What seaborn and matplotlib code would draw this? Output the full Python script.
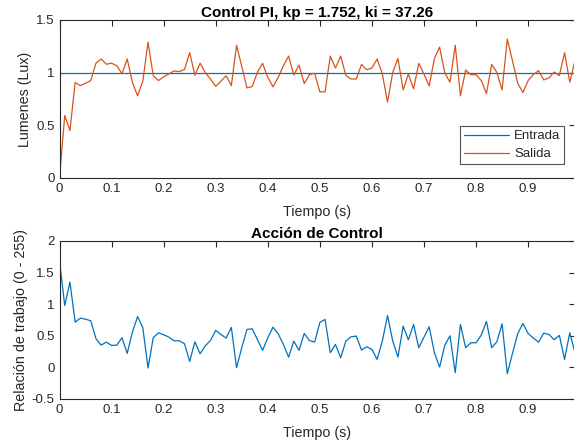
import numpy as np
import pandas as pd
import matplotlib
matplotlib.use("Agg")
import matplotlib.pyplot as plt
import seaborn as sns

# ---- data ----
tiempo = [round(i * 0.01, 2) for i in range(100)]
entrada = [1.0] * 100
salida = [0.0, 0.594, 0.45, 0.906, 0.877, 0.90, 0.925, 1.09, 1.13, 1.08,
          1.09, 1.066, 0.99, 1.13, 0.906, 0.78, 0.92, 1.29, 0.97, 0.925,
          0.96, 0.988, 1.016, 1.01, 1.03, 1.19, 0.975, 1.09, 1.0, 0.94,
          0.87, 0.92, 0.97, 0.877, 1.26, 1.06, 0.855, 0.868, 1.003, 1.088,
          0.956, 0.865, 0.956, 1.066, 1.157, 0.978, 1.072, 0.896, 0.981, 0.994,
          0.818, 0.818, 1.157, 1.044, 1.157, 0.972, 0.94, 0.94, 1.078, 1.028,
          1.044, 1.129, 0.987, 0.72, 1.003, 1.135, 0.836, 0.987, 0.846, 1.088,
          0.987, 0.874, 1.135, 1.242, 0.997, 0.909, 1.261, 0.78, 1.025, 0.981,
          0.981, 0.925, 0.802, 1.078, 1.003, 0.836, 1.318, 1.113, 0.90, 0.811,
          0.925, 0.981, 1.019, 0.931, 0.95, 1.006, 0.972, 1.189, 0.909, 1.113]
accion = [1.68, 0.98, 1.35, 0.716, 0.779, 0.763, 0.737, 0.453, 0.352, 0.40,
          0.347, 0.352, 0.469, 0.221, 0.558, 0.806, 0.627, -0.01, 0.469, 0.548,
          0.516, 0.479, 0.421, 0.421, 0.374, 0.095, 0.405, 0.216, 0.342, 0.426,
          0.585, 0.521, 0.463, 0.632, -0.005, 0.311, 0.60, 0.611, 0.442, 0.269,
          0.469, 0.637, 0.532, 0.363, 0.163, 0.416, 0.269, 0.537, 0.426, 0.40,
          0.711, 0.758, 0.232, 0.363, 0.153, 0.416, 0.484, 0.495, 0.274, 0.326,
          0.284, 0.126, 0.416, 0.821, 0.416, 0.163, 0.653, 0.437, 0.679, 0.311,
          0.479, 0.642, 0.232, 0.005, 0.352, 0.50, -0.084, 0.679, 0.311, 0.39,
          0.39, 0.511, 0.727, 0.311, 0.405, 0.69, -0.10, 0.221, 0.532, 0.695,
          0.537, 0.463, 0.40, 0.542, 0.521, 0.437, 0.506, 0.126, 0.548, 0.232]

titulo_sup = "Control PI, kp = 1.752, ki = 37.26"
titulo_inf = "Acción de Control"
xlabel = "Tiempo (s)"
ylabel_sup = "Lumenes (Lux)"
ylabel_inf = "Relación de trabajo (0 - 255)"
xticks = [0, 0.1, 0.2, 0.3, 0.4, 0.5, 0.6, 0.7, 0.8, 0.9]
xticklabels = ["0", "0.1", "0.2", "0.3", "0.4", "0.5", "0.6", "0.7", "0.8", "0.9"]
yticks_sup = [0, 0.5, 1, 1.5]
yticklabels_sup = ["0", "0.5", "1", "1.5"]
yticks_inf = [-0.5, 0, 0.5, 1, 1.5, 2]
yticklabels_inf = ["-0.5", "0", "0.5", "1", "1.5", "2"]

sns.set_style("white")
plt.rcParams['font.family'] = ['Liberation Sans', 'DejaVu Sans']
plt.rcParams['xtick.direction'] = 'in'
plt.rcParams['ytick.direction'] = 'in'

blue = "#0072BD"
orange = "#D95319"
tick_color = "#262626"

fig = plt.figure(figsize=(5.74, 4.42), dpi=100)
ax1 = fig.add_axes([0.1037, 0.5973, 0.8980, 0.3575])
ax2 = fig.add_axes([0.1037, 0.0973, 0.8980, 0.3575])

df1 = pd.DataFrame({"t": tiempo + tiempo,
                    "v": entrada + salida,
                    "serie": ["Entrada"] * len(tiempo) + ["Salida"] * len(tiempo)})
sns.lineplot(data=df1, x="t", y="v", hue="serie", palette=[blue, orange],
             linewidth=0.9, ax=ax1, estimator=None, sort=False)
df2 = pd.DataFrame({"t": tiempo, "v": accion})
sns.lineplot(data=df2, x="t", y="v", color=blue, linewidth=0.9, ax=ax2,
             estimator=None, sort=False)

for ax, yt, ytl, ylim, yl, tt in [
        (ax1, yticks_sup, yticklabels_sup, (0, 1.5), ylabel_sup, titulo_sup),
        (ax2, yticks_inf, yticklabels_inf, (-0.5, 2), ylabel_inf, titulo_inf)]:
    ax.set_xlim(0, 0.99)
    ax.set_ylim(*ylim)
    ax.set_xticks(xticks)
    ax.set_xticklabels(xticklabels)
    ax.set_yticks(yt)
    ax.set_yticklabels(ytl)
    ax.tick_params(axis='both', labelsize=9.5, colors=tick_color, length=4,
                   width=0.8, top=True, right=True, pad=3.5)
    for s in ax.spines.values():
        s.set_color(tick_color)
        s.set_linewidth(0.8)
    ax.set_xlabel(xlabel, fontsize=10.3, color=tick_color, labelpad=7)
    ax.set_ylabel(yl, fontsize=10.3, color=tick_color, labelpad=3)
    ax.set_title(tt, fontsize=11, fontweight='bold', color='black', pad=2.5)

leg = ax1.legend(loc="upper right", bbox_to_anchor=(0.979, 0.329), fontsize=9.5,
                 frameon=True, fancybox=False, edgecolor="#262626",
                 borderpad=0.3, handlelength=3.4, labelspacing=0.45,
                 handletextpad=0.4, borderaxespad=0)
leg.get_frame().set_linewidth(0.8)
leg.set_title(None)

fig.savefig("out.png", dpi=100)
